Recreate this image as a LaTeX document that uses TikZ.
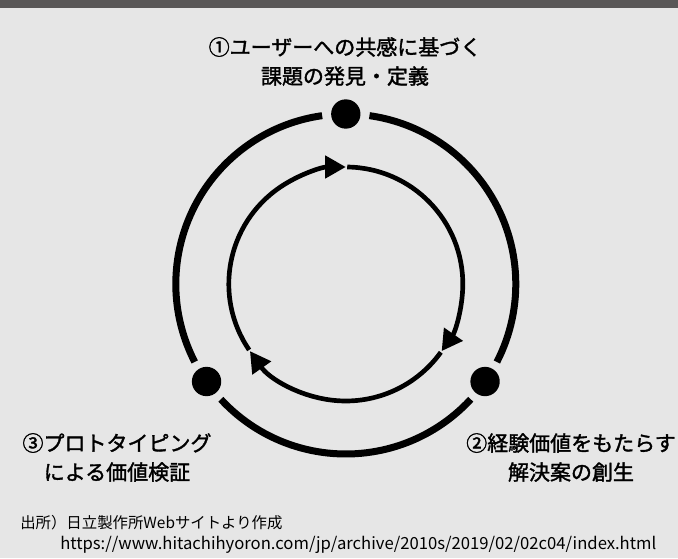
\documentclass[tikz,border=0pt]{standalone}
\usepackage{fontspec}
\newfontfamily\jp{Noto Sans CJK JP}
\newfontfamily\jpm[FakeBold=1.6]{Noto Sans CJK JP}
\usetikzlibrary{arrows.meta,calc}
\definecolor{bgc}{HTML}{E6E6E6}
\definecolor{bandc}{HTML}{595757}
\tikzset{
  outerarc/.style={line width=5.25pt},
  innerarc/.style={line width=3.5pt,-{Triangle[length=15.5pt,width=16.5pt]}},
  dotnode/.style={circle,fill=black,inner sep=0pt,minimum size=22pt},
  label/.style={align=center,font=\jpm\fontsize{15.75}{21.75}\selectfont,inner sep=0pt},
  note/.style={anchor=west,font=\jp\fontsize{11.55}{13}\selectfont,inner sep=0pt},
  urlnote/.style={anchor=west,font=\jp\fontsize{12.5}{13}\selectfont,inner sep=0pt}
}
\begin{document}
\begin{tikzpicture}[x=0.75pt,y=0.75pt]
\fill[bgc] (0,0) rectangle (678,558);
\useasboundingbox (0,0) rectangle (678,558);
\fill[bandc] (0,550) rectangle (678,558);
\coordinate (C) at (345.8,274);
% dots
\node[dotnode] (d1) at ($(C)+(90:170)$) {};
\node[dotnode] (d2) at ($(C)+(-35:170)$) {};
\node[dotnode] (d3) at ($(C)+(215:170)$) {};
% outer arcs
\draw[outerarc] ($(C)+(98:170)$) arc[start angle=98, end angle=207.3, radius=170];
\draw[outerarc] ($(C)+(222.7:170)$) arc[start angle=222.7, end angle=317.3, radius=170];
\draw[outerarc] ($(C)+(332.7:170)$) arc[start angle=332.7, end angle=442, radius=170];
% inner arrows (clockwise)
\draw[innerarc] ($(C)+(214.3:117)$) arc[start angle=214.3, end angle=90, radius=117];
\draw[innerarc] ($(C)+(89.3:117)$) arc[start angle=89.3, end angle=-35, radius=117];
\draw[innerarc] ($(C)+(-35.7:117)$) arc[start angle=-35.7, end angle=-145, radius=117];
% labels
\node[label] (l1) at (345,496.5) {①ユーザーへの共感に基づく\\課題の発見・定義};
\node[label] (l2) at (571,100.5) {②経験価値をもたらす\\解決案の創生};
\node[label] (l3) at (117,100.5) {③プロトタイピング\\による価値検証};
% source
\node[note] (n1) at (20,35) {出所）日立製作所Webサイトより作成};
\node[urlnote] (n2) at (60,13) {https://www.hitachihyoron.com/jp/archive/2010s/2019/02/02c04/index.html};
\end{tikzpicture}
\end{document}
